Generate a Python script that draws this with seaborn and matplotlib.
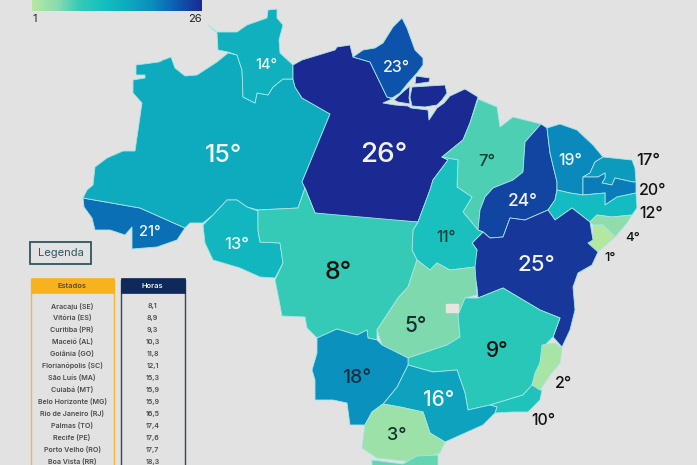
import matplotlib
matplotlib.use("Agg")
import matplotlib.pyplot as plt
import seaborn as sns
import numpy as np

# dados: posicao de cada estado no ranking
siglas = ["AC", "AM", "RR", "PA", "AP", "MA", "PI", "CE", "RN", "PB", "PE", "AL", "SE", "BA",
          "TO", "RO", "MT", "GO", "MG", "ES", "RJ", "SP", "MS", "PR", "SC"]
graus = [21, 15, 14, 26, 23, 7, 24, 19, 17, 20, 12, 4, 1, 25,
         11, 13, 8, 5, 9, 2, 10, 16, 18, 3, 6]

# tabela da legenda
estados = ["Aracaju (SE)", "Vitória (ES)", "Curitiba (PR)", "Maceió (AL)", "Goiânia (GO)",
           "Florianópolis (SC)", "São Luís (MA)", "Cuiabá (MT)", "Belo Horizonte (MG)",
           "Rio de Janeiro (RJ)", "Palmas (TO)", "Recife (PE)", "Porto Velho (RO)", "Boa Vista (RR)"]
horas = ["8,1", "8,9", "9,3", "10,3", "11,8", "12,1", "15,3", "15,9", "15,9", "16,5",
         "17,4", "17,6", "17,7", "18,3"]

# contornos dos estados, tracados a mao sobre a imagem (em pixels)
contornos = {
    "RR": [[(208,25),(217,32),(237,32),(247,25),(267,18),(268,10),(277,9),(277,18),(283,25),(279,40),(280,53),
            (293,65),(293,79),(283,79),(273,87),(268,95),(257,93),(255,103),(243,97),(242,70),(237,55),
            (228,52),(218,50),(217,33)]],
    "AM": [[(136,65),(159,62),(163,60),(171,57),(175,68),(185,76),(197,75),(217,62),(228,53),(237,55),(242,70),
            (243,97),(255,103),(257,93),(268,95),(273,87),(283,79),(293,79),(295,87),(302,98),(330,114),
            (302,182),(305,188),(298,208),(258,210),(247,207),(237,200),(227,200),(213,215),(203,223),
            (190,223),(185,228),(140,208),(83,198),(87,190),(93,185),(95,167),(107,158),(123,151),(135,151),
            (142,103),(133,93),(133,80),(145,78),(145,75),(136,75)]],
    "AC": [[(83,198),(140,208),(185,228),(177,240),(157,247),(132,249),(132,227),(125,235),(110,230),(95,230),
            (92,218),(84,207)]],
    "RO": [[(203,225),(213,215),(227,200),(237,200),(247,207),(258,211),(258,230),(260,242),(280,243),(283,263),
            (275,278),(260,277),(240,268),(213,260),(205,243)]],
    "MT": [[(258,210),(298,208),(305,188),(315,213),(418,222),(413,230),(412,250),(417,260),(408,287),(398,298),
            (377,330),(377,340),(368,338),(367,330),(357,335),(337,329),(317,338),(307,328),(305,317),(282,316),
            (279,300),(275,280),(283,263),(280,243),(260,242),(258,230)]],
    "PA": [[(293,65),(302,60),(335,50),(337,47),(350,45),(353,57),(370,62),(387,97),(392,99),(383,103),(395,105),
            (408,106),(411,108),(428,110),(429,120),(437,108),(444,103),(450,96),(465,89),(478,97),(470,123),
            (463,140),(442,157),(448,160),(433,180),(430,190),(418,222),(350,218),(315,213),(305,188),(302,182),
            (330,114),(302,98),(295,87),(293,79)],
           [(412,87),(445,85),(447,93),(442,100),(437,105),(425,107),(412,106),(410,97)],
           [(404,91),(410,86),(409,98),(410,104),(398,102),(394,100)],
           [(416,76),(430,78),(429,82),(415,84)]],
    "AP": [[(353,57),(363,50),(375,48),(383,43),(393,27),(402,18),(407,28),(415,50),(423,58),(423,65),(417,73),
            (408,83),(400,93),(392,98),(387,97),(370,62)]],
    "MA": [[(478,99),(497,107),(500,127),(513,117),(537,123),(541,124),(525,142),(523,172),(513,180),(493,188),
            (485,197),(480,210),(478,230),(463,212),(472,197),(457,187),(458,160),(442,157),(463,140),(470,123)]],
    "PI": [[(541,124),(547,128),(550,153),(557,182),(557,190),(555,200),(548,210),(525,220),(510,218),(503,237),(490,238),
            (483,232),(478,230),(480,210),(485,197),(493,188),(513,180),(523,172),(525,142)]],
    "CE": [[(547,128),(560,124),(577,130),(593,145),(603,157),(595,162),(590,173),(583,177),(583,195),(570,193),
            (557,190),(557,182),(550,153)]],
    "RN": [[(603,157),(632,160),(635,168),(636,182),(633,182),(615,178),(612,185),(602,183),(605,178),(605,173),
            (598,177),(583,177),(590,173),(595,162)]],
    "PB": [[(583,177),(598,177),(605,173),(605,178),(602,183),(612,185),(615,178),(633,182),(636,182),(636,193),
            (617,197),(605,205),(605,193),(583,195)]],
    "PE": [[(557,190),(570,193),(583,195),(605,193),(605,205),(617,197),(636,193),(637,208),(632,215),(612,217),
            (597,215),(590,222),(572,208),(555,220),(548,210),(555,200)]],
    "AL": [[(590,222),(597,215),(612,217),(632,215),(627,223),(615,237),(603,225),(593,225)]],
    "SE": [[(593,225),(603,225),(615,237),(600,250),(597,252),(588,243),(593,240)]],
    "BA": [[(472,243),(483,232),(490,238),(503,237),(510,218),(525,220),(548,210),(555,220),(572,208),(590,222),
            (593,240),(588,243),(598,252),(592,265),(578,273),(573,287),(575,310),(570,330),(562,347),(553,337),
            (560,318),(540,310),(503,288),(478,298),(477,287),(473,267),(477,250)]],
    "TO": [[(442,157),(458,160),(457,187),(472,197),(463,212),(478,230),(483,232),(472,243),(477,250),(475,267),
            (450,270),(437,263),(430,270),(417,260),(412,250),(413,230),(418,222),(430,190),(433,180),(448,160)]],
    "GO": [[(417,260),(430,270),(437,263),(450,270),(475,267),(477,295),(465,298),(458,315),(460,337),(447,345),
            (408,358),(382,345),(377,330),(398,298),(408,287)]],
    "MG": [[(465,298),(478,298),(503,288),(540,310),(560,318),(553,337),(543,347),(540,363),(532,385),(523,395),
            (490,405),(468,410),(465,393),(457,370),(433,372),(408,365),(408,358),(447,345),(460,337),(458,315)]],
    "ES": [[(542,345),(555,343),(562,348),(560,363),(550,375),(540,390),(532,385),(535,373),(540,363)]],
    "RJ": [[(532,385),(540,390),(542,390),(540,400),(528,412),(513,412),(495,413),(497,407),(490,405),(523,395)]],
    "SP": [[(408,365),(433,372),(457,370),(465,393),(468,410),(490,405),(497,407),(495,413),(483,425),(445,442),
            (430,433),(423,412),(400,407),(383,404),(397,387)]],
    "MS": [[(317,338),(337,329),(357,335),(367,330),(368,338),(377,340),(382,345),(408,358),(408,365),(397,387),
            (383,404),(372,412),(365,425),(350,425),(347,403),(333,400),(315,400),(315,380),(312,370),(317,353)]],
    "PR": [[(383,404),(400,407),(423,412),(430,433),(445,442),(440,453),(413,462),(377,458),(362,448),(365,425),(372,412)]],
    "SC": [[(372,460),(403,464),(417,456),(438,455),(438,466),(372,466)]],
}

# onde vai cada numero: (x, y, tamanho, cor)
rotulos = {
    "RR": (266, 65, 10.5, "#eefafa"), "AM": (223, 155, 18, "#f2fbfb"), "AC": (150, 232, 10.5, "#f2fbfb"),
    "PA": (384, 155, 20, "#f2f4fb"), "AP": (396, 68, 11.5, "#f2f4fb"), "MA": (487, 161, 12, "#0f3f3a"),
    "CE": (570, 160, 11.5, "#f2fbfb"), "RN": (648, 160, 12, "#111111"), "PB": (653, 190, 11.5, "#111111"),
    "PE": (651, 213, 11.5, "#111111"), "AL": (633, 238, 9.5, "#111111"), "SE": (610, 258, 9.5, "#111111"),
    "PI": (523, 201, 12.5, "#f2f4fb"), "BA": (536, 265, 16, "#f2f4fb"), "TO": (446, 237, 11, "#0f3f3a"),
    "RO": (237, 244, 12, "#f2fbfb"), "MT": (338, 272, 18, "#111111"), "GO": (416, 326, 15, "#12302c"),
    "MG": (497, 351, 15, "#111111"), "ES": (563, 383, 11.5, "#111111"), "RJ": (543, 420, 11.5, "#111111"),
    "SP": (439, 400, 15, "#f2fbfb"), "MS": (357, 378, 14, "#10303f"), "PR": (397, 435, 13, "#12302c"),
}

sns.set_theme(style="white")
plt.rcParams["font.family"] = ["Inter", "DejaVu Sans"]

cores_escala = ["#b4e89f", "#88dbae", "#2fc9b6", "#13bec0", "#0ea8bd", "#0a8bbe", "#0b5cb0", "#1b2a92"]
escala = sns.blend_palette(cores_escala, as_cmap=True)
fundo = "#e2e2e2"

fig = plt.figure(figsize=(6.97, 4.65), dpi=100, facecolor=fundo)
ax = fig.add_axes([0, 0, 1, 1])
ax.set_xlim(0, 697)
ax.set_ylim(465, 0)
ax.axis("off")

# mapa
for uf, grau in zip(siglas, graus):
    cor = escala((grau - 1) / 25)
    for parte in contornos[uf]:
        xs, ys = zip(*parte)
        ax.fill(xs, ys, facecolor=cor, edgecolor="#a5e6e6", linewidth=0.6, joinstyle="round")
    if uf in rotulos:
        x, y, tam, cor_txt = rotulos[uf]
        ax.text(x, y, f"{grau}°", fontsize=tam, color=cor_txt, ha="center", va="center", fontweight="medium")

# Distrito Federal fica sem cor
ax.fill([446, 458, 458, 446], [304, 304, 312, 312], color="#e6e6e0", zorder=3)

# barra de cores
ax_barra = fig.add_axes([32 / 697, 1 - 11 / 465, 170 / 697, 11 / 465])
valores_barra = np.arange(1, 26.1, 0.25).reshape(1, -1)
sns.heatmap(valores_barra, cmap=escala, vmin=1, vmax=26, cbar=False, xticklabels=False,
            yticklabels=False, ax=ax_barra)
ax.text(35, 19, "1", fontsize=8, color="#222222", ha="center", va="center")
ax.text(195, 19, "26", fontsize=8, color="#222222", ha="center", va="center")

# caixa "Legenda"
ax.add_patch(plt.Rectangle((30, 242), 61, 22, facecolor="none", edgecolor="#2f5560", linewidth=1.3))
ax.text(60.5, 253, "Legenda", fontsize=8, color="#33555f", ha="center", va="center")

# colunas da tabela
ax.add_patch(plt.Rectangle((30.5, 280), 83, 200, facecolor="none", edgecolor="#f4b93a", linewidth=1))
ax.add_patch(plt.Rectangle((30.5, 278), 83, 15, facecolor="#f8b21e", edgecolor="#f8b21e", linewidth=0.5))
ax.add_patch(plt.Rectangle((120.5, 280), 64, 200, facecolor="none", edgecolor="#33475b", linewidth=1))
ax.add_patch(plt.Rectangle((120.5, 278), 64, 15, facecolor="#0e2a5a", edgecolor="#0e2a5a", linewidth=0.5))
ax.text(72, 286, "Estados", fontsize=5.4, color="#5a4a20", ha="center", va="center", fontweight="semibold")
ax.text(152.5, 286, "Horas", fontsize=5.4, color="#eef2f8", ha="center", va="center", fontweight="semibold")

for i, (nome, hora) in enumerate(zip(estados, horas)):
    y = 306 + i * 11.97
    ax.text(72, y, nome, fontsize=5.1, color="#4a4a4a", ha="center", va="center", fontweight="semibold")
    ax.text(152.5, y, hora, fontsize=5.1, color="#4a4a4a", ha="center", va="center", fontweight="semibold")

fig.savefig("out.png", dpi=100, facecolor=fundo)
